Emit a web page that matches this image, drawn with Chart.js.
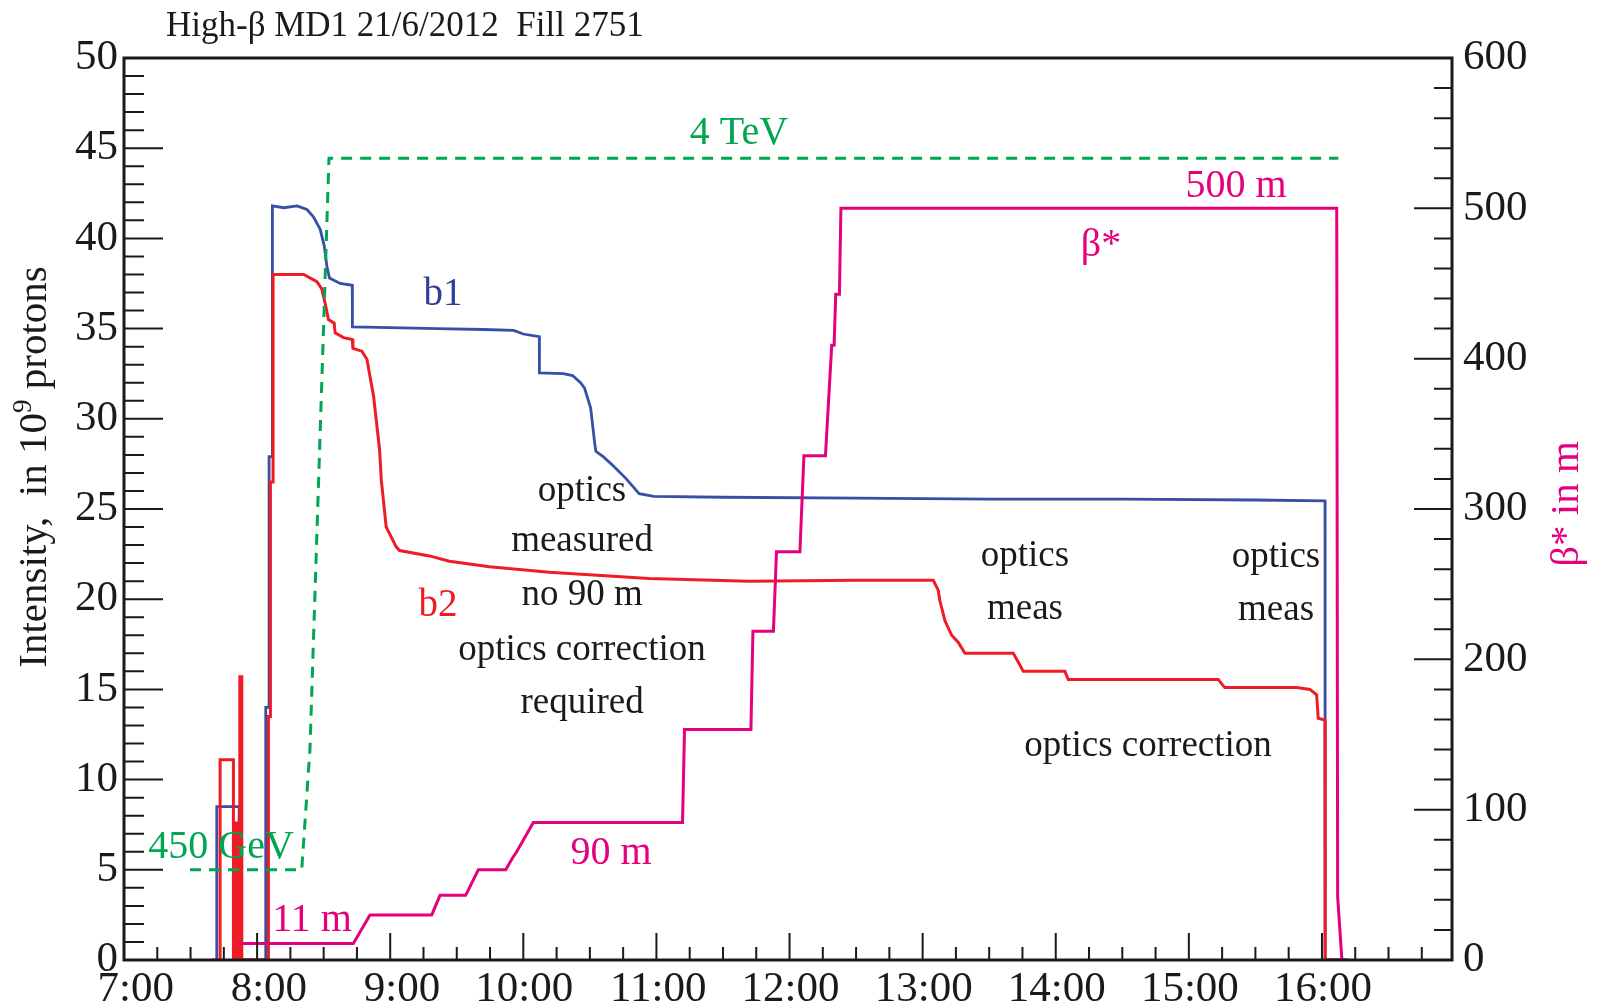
<!DOCTYPE html>
<html>
<head>
<meta charset="utf-8">
<script src="https://cdn.jsdelivr.net/npm/chart.js@4.4.1/dist/chart.umd.min.js"></script>
<style>
  html, body { margin: 0; padding: 0; background: #fff; }
  #wrap { width: 1602px; height: 1005px; position: relative; }
</style>
</head>
<body>
<div id="wrap"><canvas id="fillChart"></canvas></div>
<script>
// time in decimal hours, intensities in 1e9 protons, beta* in m, energy in GeV
const b1Time = [7.697, 7.697, 7.865, 7.865, 8.065, 8.065, 8.09, 8.09, 8.115, 8.115,
  8.20, 8.30, 8.374, 8.423, 8.474, 8.504, 8.524, 8.544, 8.624, 8.715, 8.716,
  9.0, 9.35, 9.70, 9.928, 10.0, 10.12, 10.121, 10.30, 10.37, 10.43, 10.46, 10.506,
  10.537, 10.545, 10.60, 10.675, 10.77, 10.87, 10.98, 11.5, 12.5, 13.5, 14.5, 15.5,
  16.023, 16.024, 16.2];
const b1Val = [0, 8.5, 8.5, 0, 0, 14.0, 14.0, 27.9, 27.9, 41.8,
  41.7, 41.8, 41.6, 41.2, 40.5, 39.6, 38.45, 37.8, 37.5, 37.4, 35.1,
  35.05, 35.0, 34.95, 34.9, 34.7, 34.55, 32.55, 32.5, 32.4, 32.0, 31.7, 30.6,
  28.6, 28.2, 27.9, 27.4, 26.7, 25.85, 25.7, 25.65, 25.6, 25.55, 25.55, 25.5,
  25.45, 0, 0];

const b2Time = [7.66, 7.722, 7.722, 7.822, 7.822, 7.835, 7.835, 7.855, 7.855, 7.87,
  7.87, 7.885, 7.885, 8.085, 8.085, 8.10, 8.10, 8.12, 8.12, 8.35, 8.449, 8.486,
  8.511, 8.536, 8.579, 8.586, 8.649, 8.715, 8.72, 8.787, 8.825, 8.875, 8.92, 8.933,
  8.97, 9.045, 9.07, 9.295, 9.445, 9.745, 10.195, 10.945, 11.695, 12.5, 13.08,
  13.117, 13.13, 13.168, 13.218, 13.268, 13.318, 13.681, 13.719, 13.756, 14.069,
  14.094, 15.221, 15.27, 15.81, 15.91, 15.96, 15.972, 16.023, 16.024, 16.195];
const b2Val = [0, 0, 11.1, 11.1, 0, 0, 7.6, 7.6, 0, 0,
  15.7, 15.7, 0, 0, 13.5, 13.5, 26.5, 26.5, 38.0, 38.0, 37.6, 37.2,
  36.4, 35.5, 35.3, 34.76, 34.5, 34.4, 33.9, 33.75, 33.3, 31.25, 28.3, 26.6,
  24.0, 22.9, 22.7, 22.4, 22.1, 21.8, 21.5, 21.15, 21.0, 21.05, 21.05,
  20.5, 19.9, 18.8, 18.0, 17.6, 17.0, 17.0, 16.5, 16.0, 16.0,
  15.55, 15.55, 15.1, 15.1, 15.0, 14.7, 13.4, 13.3, 0, 0];

const betaTime = [7.856, 8.723, 8.848, 9.312, 9.374, 9.567, 9.662, 9.868, 9.92, 9.95,
  10.075, 11.196, 11.211, 11.71, 11.725, 11.879, 11.902, 12.078, 12.108, 12.27,
  12.317, 12.335, 12.347, 12.375, 12.386, 16.111, 16.118, 16.15];
const betaVal = [11, 11, 30, 30, 43, 43, 60, 60, 68, 72,
  91.5, 91.5, 153.3, 153.3, 218.6, 218.6, 271.6, 271.6, 335.5, 335.5,
  408.9, 408.9, 442.8, 442.8, 500, 500, 42, 0];

const energyTime = [7.496, 8.335, 8.397, 8.54, 16.123];
const energyGeV = [450, 450, 1050, 4000, 4000];

const hourTicks = [7, 8, 9, 10, 11, 12, 13, 14, 15, 16];

// text written on the plot, placed in (hour, intensity) coordinates
const notes = [
  { text: 'optics', t: 10.441, v: 26.0, color: '#1a1a1a', size: 37 },
  { text: 'measured', t: 10.441, v: 23.2, color: '#1a1a1a', size: 37 },
  { text: 'no 90 m', t: 10.441, v: 20.2, color: '#1a1a1a', size: 37 },
  { text: 'optics correction', t: 10.441, v: 17.18, color: '#1a1a1a', size: 37 },
  { text: 'required', t: 10.441, v: 14.25, color: '#1a1a1a', size: 37 },
  { text: 'optics', t: 13.769, v: 22.39, color: '#1a1a1a', size: 37 },
  { text: 'meas', t: 13.769, v: 19.46, color: '#1a1a1a', size: 37 },
  { text: 'optics', t: 15.655, v: 22.34, color: '#1a1a1a', size: 37 },
  { text: 'meas', t: 15.655, v: 19.4, color: '#1a1a1a', size: 37 },
  { text: 'optics correction', t: 14.693, v: 11.86, color: '#1a1a1a', size: 37 },
  { text: 'b1', t: 9.397, v: 36.86, color: '#2e3f98', size: 39 },
  { text: 'b2', t: 9.359, v: 19.62, color: '#ee1c25', size: 39 },
  { text: 'β*', t: 14.34, v: 39.63, color: '#e5007d', size: 40 },
  { text: '500 m', t: 15.354, v: 42.9, color: '#e5007d', size: 40 },
  { text: '90 m', t: 10.659, v: 5.88, color: '#e5007d', size: 40 },
  { text: '11 m', t: 8.412, v: 2.19, color: '#e5007d', size: 40 },
  { text: '4 TeV', t: 11.62, v: 45.84, color: '#00a651', size: 40 },
  { text: '450 GeV', t: 7.729, v: 6.21, color: '#00a651', size: 40 }
];

const FONT = 'Liberation Serif';
Chart.defaults.font.family = FONT;
Chart.defaults.color = '#1a1a1a';

function pts(ts, vs) {
  return ts.map((t, i) => ({ x: t, y: vs[i] }));
}

const rootStyle = {
  id: 'rootStyle',
  afterDatasetsDraw(chart) {
    const ctx = chart.ctx, a = chart.chartArea;
    const x = chart.scales.x, y = chart.scales.y, y2 = chart.scales.y2;
    ctx.save();
    ctx.strokeStyle = '#1a1a1a';
    ctx.lineWidth = 2;
    ctx.beginPath();
    // time axis: major each hour, minor each quarter
    for (let q = 0; 7 + q * 0.25 <= x.max + 1e-6; q++) {
      const px = x.getPixelForValue(7 + q * 0.25);
      const len = q % 4 === 0 ? 27 : 13;
      ctx.moveTo(px, a.bottom); ctx.lineTo(px, a.bottom - len);
    }
    for (let v = 0; v <= 50; v++) {
      const py = y.getPixelForValue(v);
      const len = v % 5 === 0 ? 39 : 20;
      ctx.moveTo(a.left, py); ctx.lineTo(a.left + len, py);
    }
    for (let v = 0; v <= 600; v += 20) {
      const py = y2.getPixelForValue(v);
      const len = v % 100 === 0 ? 38 : 18;
      ctx.moveTo(a.right, py); ctx.lineTo(a.right - len, py);
    }
    ctx.stroke();
    ctx.lineWidth = 3;
    ctx.strokeRect(a.left, a.top, a.right - a.left, a.bottom - a.top);
    ctx.restore();
  },
  afterDraw(chart) {
    const ctx = chart.ctx;
    const x = chart.scales.x, y = chart.scales.y;
    ctx.save();
    ctx.textAlign = 'center';
    ctx.textBaseline = 'middle';
    notes.forEach(n => {
      ctx.font = n.size + 'px "' + FONT + '"';
      ctx.fillStyle = n.color;
      ctx.fillText(n.text, x.getPixelForValue(n.t), y.getPixelForValue(n.v));
    });

    // title
    ctx.textAlign = 'left';
    ctx.textBaseline = 'alphabetic';
    ctx.fillStyle = '#1a1a1a';
    ctx.font = '35px "' + FONT + '"';
    ctx.fillText('High-β MD1 21/6/2012  Fill 2751', 166, 36);

    // left axis title with superscript
    const big = '41px "' + FONT + '"', small = '27px "' + FONT + '"';
    const p1 = 'Intensity,  in 10', p2 = '9', p3 = ' protons';
    ctx.font = big; const w1 = ctx.measureText(p1).width, w3 = ctx.measureText(p3).width;
    ctx.font = small; const w2 = ctx.measureText(p2).width;
    const total = w1 + w2 + w3;
    ctx.save();
    ctx.translate(46, 467);
    ctx.rotate(-Math.PI / 2);
    let cx = -total / 2;
    ctx.font = big; ctx.fillText(p1, cx, 0); cx += w1;
    ctx.font = small; ctx.fillText(p2, cx, -15); cx += w2;
    ctx.font = big; ctx.fillText(p3, cx, 0);
    ctx.restore();

    // right axis title
    ctx.save();
    ctx.translate(1578, 504);
    ctx.rotate(-Math.PI / 2);
    ctx.textAlign = 'center';
    ctx.fillStyle = '#e5007d';
    ctx.font = '41px "' + FONT + '"';
    ctx.fillText('β* in m', 0, 0);
    ctx.restore();
    ctx.restore();
  }
};

new Chart(document.getElementById('fillChart').getContext('2d'), {
  type: 'line',
  data: {
    datasets: [
      {
        label: 'b1',
        data: pts(b1Time, b1Val),
        yAxisID: 'y',
        borderColor: '#3550a5',
        borderWidth: 2.8,
        order: 4
      },
      {
        label: 'b2',
        data: pts(b2Time, b2Val),
        yAxisID: 'y',
        borderColor: '#ee1c25',
        borderWidth: 3,
        order: 3
      },
      {
        label: 'energy',
        data: pts(energyTime, energyGeV),
        yAxisID: 'yE',
        borderColor: '#00a651',
        borderWidth: 3,
        borderDash: [11, 8],
        order: 2
      },
      {
        label: 'beta*',
        data: pts(betaTime, betaVal),
        yAxisID: 'y2',
        borderColor: '#e5007d',
        borderWidth: 3,
        order: 1
      }
    ]
  },
  options: {
    responsive: true,
    maintainAspectRatio: false,
    devicePixelRatio: 1,
    animation: false,
    layout: { padding: { top: 58, left: 0, right: 0, bottom: 0 } },
    elements: { point: { radius: 0 }, line: { tension: 0, fill: false } },
    plugins: { legend: { display: false }, tooltip: { enabled: false } },
    scales: {
      x: {
        type: 'linear',
        position: 'bottom',
        min: 7,
        max: 16.977,
        grid: { display: false, drawTicks: false },
        border: { display: false },
        afterBuildTicks: s => { s.ticks = hourTicks.map(h => ({ value: h })); },
        afterFit: s => { s.height = 45; },
        ticks: {
          padding: 4,
          maxRotation: 0,
          autoSkip: false,
          align: 'end',
          labelOffset: 50,
          font: { size: 43, lineHeight: 1.2 },
          callback: v => v + ':00'
        }
      },
      y: {
        position: 'left',
        min: 0,
        max: 50,
        grid: { display: false, drawTicks: false },
        border: { display: false },
        afterFit: s => { s.width = 124; },
        ticks: { stepSize: 5, padding: 6, font: { size: 43 } }
      },
      y2: {
        position: 'right',
        min: 0,
        max: 600,
        grid: { display: false, drawTicks: false },
        border: { display: false },
        afterFit: s => { s.width = 150; },
        ticks: { stepSize: 100, padding: 11, font: { size: 43 } }
      },
      yE: {
        display: false,
        min: 0,
        max: 4500
      }
    }
  },
  plugins: [rootStyle]
});
</script>
</body>
</html>
